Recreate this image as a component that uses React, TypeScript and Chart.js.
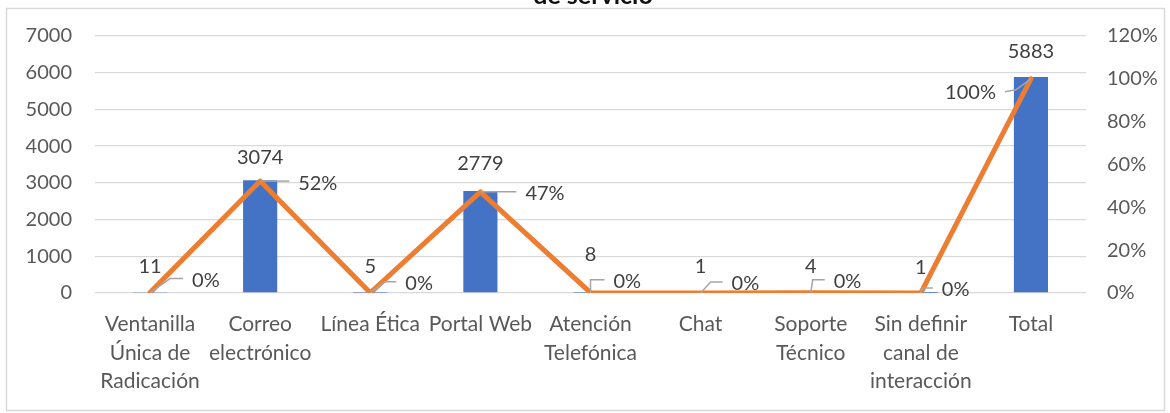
import React, { useEffect, useRef } from "react";
import { Chart, registerables } from "chart.js";

Chart.register(...registerables);

const categories: string[][] = [
  ["Ventanilla", "Única de", "Radicación"],
  ["Correo", "electrónico"],
  ["Línea Ética"],
  ["Portal Web"],
  ["Atención", "Telefónica"],
  ["Chat"],
  ["Soporte", "Técnico"],
  ["Sin definir", "canal de", "interacción"],
  ["Total"],
];
const counts = [11, 3074, 5, 2779, 8, 1, 4, 1, 5883];
const shares = [0.0019, 0.5225, 0.0008, 0.4724, 0.0014, 0.0002, 0.0007, 0.0002, 1.0];
const shareLabels = ["0%", "52%", "0%", "47%", "0%", "0%", "0%", "0%", "100%"];
const countTicks = [0, 1000, 2000, 3000, 4000, 5000, 6000, 7000];
const shareTicks = [0, 0.2, 0.4, 0.6, 0.8, 1.0, 1.2];
const titleVisible = "de servicio";

// label layout (offsets relative to mark), not data
const countLift = [26, 23, 26, 27, 38, 26, 26, 25, 25];
const leaderElbow: [number, number][] = [
  [20, -14], [0, 0], [14, -11], [0, 0], [0, -13], [10, -11], [2, -13], [2, -5], [-15, 11],
];
const leaderEnd: [number, number][] = [
  [33, -14], [29, 0], [26, -11], [36, 0], [14, -13], [22, -11], [14, -13], [12, -5], [-26, 13],
];

const FONT = "Lato";
const FS = 20;
const FS_CAT = 21;

const labelPlugin = {
  id: "customLabels",
  beforeDraw(chart: any) {
    const ctx = chart.ctx;
    ctx.save();
    ctx.strokeStyle = "#d9d9d9";
    ctx.lineWidth = 1.5;
    ctx.strokeRect(6.5, 8.5, 1158, 402);
    ctx.fillStyle = "#111111";
    ctx.font = `bold 25px ${FONT}`;
    ctx.textAlign = "center";
    ctx.textBaseline = "alphabetic";
    ctx.fillText(titleVisible, 593, 4);
    ctx.restore();
  },
  afterDatasetsDraw(chart: any) {
    const ctx = chart.ctx;
    const barMeta = chart.getDatasetMeta(1);
    const lineMeta = chart.getDatasetMeta(0);
    ctx.save();
    ctx.font = `${FS}px ${FONT}`;
    ctx.fillStyle = "#404040";
    ctx.textBaseline = "middle";
    barMeta.data.forEach((el: any, i: number) => {
      ctx.textAlign = "center";
      ctx.fillText(String(counts[i]), el.x, el.y - countLift[i]);
    });
    lineMeta.data.forEach((el: any, i: number) => {
      const px = el.x, py = el.y;
      const [ex, ey] = leaderElbow[i];
      const [lx, ly] = leaderEnd[i];
      ctx.strokeStyle = "#a6a6a6";
      ctx.lineWidth = 1.5;
      ctx.beginPath();
      ctx.moveTo(px, py);
      ctx.lineTo(px + ex, py + ey);
      ctx.lineTo(px + lx, py + ly);
      ctx.stroke();
      if (lx < 0) {
        ctx.textAlign = "right";
        ctx.fillText(shareLabels[i], px + lx - 9, py + ly + 1);
      } else {
        ctx.textAlign = "left";
        ctx.fillText(shareLabels[i], px + lx + 9, py + ly + 2);
      }
    });
    ctx.restore();
  },
};

export default function App() {
  const ref = useRef<HTMLCanvasElement | null>(null);
  useEffect(() => {
    if (!ref.current) return;
    const chart = new Chart(ref.current, {
      type: "bar",
      data: {
        labels: categories,
        datasets: [
          {
            type: "line",
            label: "Porcentaje",
            data: shares,
            yAxisID: "y1",
            borderColor: "#ED7D31",
            backgroundColor: "#ED7D31",
            borderWidth: 5,
            pointRadius: 0,
            borderJoinStyle: "round",
            borderCapStyle: "round",
            tension: 0,
            order: 0,
          } as any,
          {
            type: "bar",
            label: "Cantidad",
            data: counts,
            yAxisID: "y",
            backgroundColor: "#4472C4",
            barPercentage: 0.31,
            categoryPercentage: 1,
            order: 1,
          },
        ],
      },
      options: {
        animation: false,
        responsive: false,
        layout: { padding: { top: 36, left: 0, right: 0, bottom: 0 } },
        plugins: { legend: { display: false }, tooltip: { enabled: false }, title: { display: false } },
        scales: {
          x: {
            grid: { display: false, drawTicks: false },
            border: { display: false },
            ticks: {
              color: "#595959",
              font: { family: FONT, size: FS_CAT, lineHeight: 1.36 },
              padding: 17,
              maxRotation: 0,
              autoSkip: false,
            },
            afterFit: (s: any) => { s.height = 120; },
          },
          y: {
            position: "left",
            min: 0,
            max: 7000,
            afterBuildTicks: (s: any) => { s.ticks = countTicks.map((v) => ({ value: v })); },
            grid: { color: "#d9d9d9", lineWidth: 1.3, drawTicks: false },
            border: { display: false },
            ticks: {
              color: "#595959",
              font: { family: FONT, size: FS },
              padding: 23,
              callback: (v: any) => String(v),
            },
            afterFit: (s: any) => { s.width = 95; },
          },
          y1: {
            position: "right",
            min: 0,
            max: 1.2,
            afterBuildTicks: (s: any) => { s.ticks = shareTicks.map((v) => ({ value: v })); },
            grid: { drawOnChartArea: false, drawTicks: false },
            border: { display: false },
            ticks: {
              color: "#595959",
              font: { family: FONT, size: FS },
              padding: 21,
              callback: (v: any) => `${Math.round(Number(v) * 100)}%`,
            },
            afterFit: (s: any) => { s.width = 84; },
          },
        },
      },
      plugins: [labelPlugin],
    });
    return () => chart.destroy();
  }, []);
  return (
    <div style={{ position: "fixed", left: 0, top: 0, width: 1170, height: 413, background: "#fff" }}>
      <canvas ref={ref} width={1170} height={413} style={{ width: 1170, height: 413, display: "block" }} />
    </div>
  );
}
